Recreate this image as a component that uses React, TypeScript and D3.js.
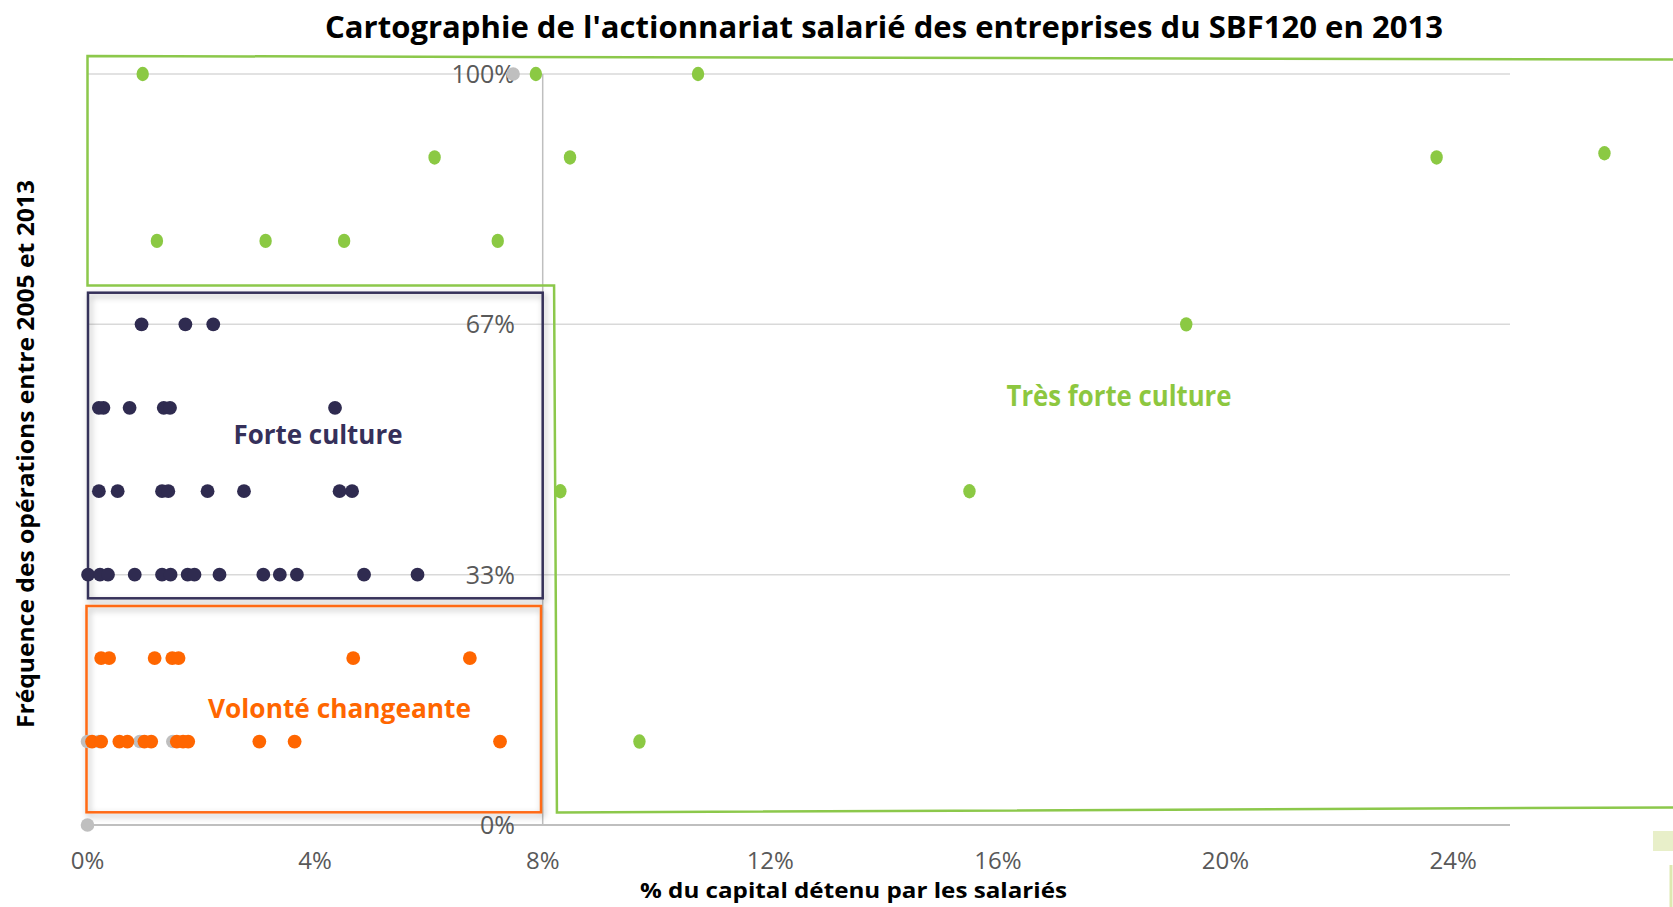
import React from "react";
import * as d3 from "d3";

// ---- data (frequency expressed as number of years with operations out of 9, 2005-2013) ----
const YEARS = 9;
const xTicks = [0, 4, 8, 12, 16, 20, 24];
const yTicks = [0, 1 / 3, 2 / 3, 1];

// Très forte culture (green)
const greenX = [0.97, 7.88, 10.73, 6.1, 8.48, 23.71, 26.66, 1.22, 3.13, 4.51, 7.21, 19.31, 8.31, 15.5, 9.7];
const greenN = [9, 9, 9, 8, 8, 8, 8.05, 7, 7, 7, 7, 6, 4, 4, 1];

// Forte culture (navy)
const navyRow6 = [0.95, 1.72, 2.21];
const navyRow5 = [0.2, 0.28, 0.74, 1.34, 1.45, 4.35];
const navyRow4 = [0.2, 0.53, 1.31, 1.42, 2.11, 2.75, 4.43, 4.65];
const navyRow3 = [0.01, 0.22, 0.36, 0.83, 1.31, 1.46, 1.76, 1.88, 2.32, 3.09, 3.38, 3.68, 4.86, 5.8];

// Volonté changeante (orange)
const orangeRow2 = [0.24, 0.38, 1.18, 1.49, 1.6, 4.67, 6.72];
const orangeRow1 = [0.08, 0.24, 0.56, 0.7, 1.0, 1.12, 1.57, 1.68, 1.77, 3.02, 3.64, 7.25];

// grey (unclassified) points
const greyX = [0, 0, 0.2, 0.92, 1.5, 7.48];
const greyN = [0, 1, 1, 1, 1, 9];

const W = 1673;
const H = 907;

export default function App() {
  const x = d3.scaleLinear().domain([0, 25]).range([87.5, 1510]);
  const y = d3.scaleLinear().domain([0, 1]).range([825, 74]);
  const fy = (n: number) => y(n / YEARS);

  const navy = [
    ...navyRow6.map((v) => [v, 6]),
    ...navyRow5.map((v) => [v, 5]),
    ...navyRow4.map((v) => [v, 4]),
    ...navyRow3.map((v) => [v, 3]),
  ];
  const orange = [...orangeRow2.map((v) => [v, 2]), ...orangeRow1.map((v) => [v, 1])];

  const greenLine = "#8CC84B";
  const greenDot = "#8BC943";
  const navyCol = "#2F2B50";
  const orangeCol = "#FF6600";
  const font = "'Open Sans', 'Noto Sans', sans-serif";

  // region shapes derived from the scales
  const greenShape = [
    [x(0), 56],
    [1690, 59.6],
    [1690, 807.3],
    [x(8.25), 812.5],
    [x(8.2), 285.5],
    [x(0), 285.5],
  ];

  return (
    <svg
      width={W}
      height={H}
      style={{ position: "absolute", left: 0, top: 0, background: "#fff" }}
    >
      <defs>
        <filter id="sh" x="-10%" y="-10%" width="120%" height="120%">
          <feDropShadow dx="2" dy="3" stdDeviation="3" floodColor="#000" floodOpacity="0.3" />
        </filter>
      </defs>

      {/* title */}
      <text
        x={884}
        y={38}
        textAnchor="middle"
        fontFamily={font}
        fontWeight="bold"
        fontSize={31}
        textLength={1118}
        lengthAdjust="spacingAndGlyphs"
        fill="#000"
      >
        Cartographie de l'actionnariat salarié des entreprises du SBF120 en 2013
      </text>

      {/* gridlines */}
      {yTicks
        .filter((t) => t > 0)
        .map((t, i) => (
          <line key={"g" + i} x1={x(0)} x2={x(25)} y1={y(t)} y2={y(t)} stroke="#D9D9D9" strokeWidth={1.5} />
        ))}
      {/* x axis */}
      <line x1={x(0)} x2={x(25)} y1={y(0)} y2={y(0)} stroke="#BFBFBF" strokeWidth={1.8} />
      {/* y axis, crossing at 8% */}
      <line x1={x(8)} x2={x(8)} y1={y(1)} y2={y(0)} stroke="#BFBFBF" strokeWidth={1.5} />

      {/* x tick labels */}
      {xTicks.map((t) => (
        <text
          key={"xt" + t}
          x={x(t)}
          y={869}
          textAnchor="middle"
          fontFamily={font}
          fontSize={24}
          fill="#595959"
        >
          {t + "%"}
        </text>
      ))}

      {/* region boxes */}
      <polygon
        points={greenShape.map((p) => p.join(",")).join(" ")}
        fill="none"
        stroke={greenLine}
        strokeWidth={2.5}
      />
      <rect
        x={88}
        y={292.7}
        width={x(8) - 88}
        height={598.3 - 292.7}
        fill="none"
        stroke="#36315A"
        strokeWidth={2.5}
        filter="url(#sh)"
      />
      <rect
        x={86.5}
        y={606}
        width={541 - 86.5}
        height={812.3 - 606}
        fill="none"
        stroke="#FF6A13"
        strokeWidth={2.5}
        filter="url(#sh)"
      />

      {/* y tick labels */}
      {yTicks.map((t, i) => (
        <text
          key={"yt" + i}
          x={515}
          y={y(t)}
          dy="0.36em"
          textAnchor="end"
          fontFamily={font}
          fontSize={25}
          fill="#595959"
        >
          {Math.round(t * 100) + "%"}
        </text>
      ))}

      {/* points */}
      {greyX.map((v, i) => (
        <circle key={"gr" + i} cx={x(v)} cy={fy(greyN[i])} r={6.8} fill="#BFBFBF" />
      ))}
      {navy.map(([v, n], i) => (
        <circle key={"n" + i} cx={x(v)} cy={fy(n)} r={6.9} fill={navyCol} />
      ))}
      {orange.map(([v, n], i) => (
        <circle key={"o" + i} cx={x(v)} cy={fy(n)} r={6.9} fill={orangeCol} />
      ))}
      {greenX.map((v, i) => (
        <ellipse key={"gn" + i} cx={x(v)} cy={fy(greenN[i])} rx={6.2} ry={7.2} fill={greenDot} />
      ))}

      {/* region labels */}
      <text
        x={1119}
        y={406}
        textAnchor="middle"
        fontFamily={font}
        fontWeight="bold"
        fontSize={28}
        textLength={225}
        lengthAdjust="spacingAndGlyphs"
        fill="#8DC73F"
      >
        Très forte culture
      </text>
      <text
        x={318}
        y={444}
        textAnchor="middle"
        fontFamily={font}
        fontWeight="bold"
        fontSize={27}
        textLength={169}
        lengthAdjust="spacingAndGlyphs"
        fill="#35305A"
      >
        Forte culture
      </text>
      <text
        x={339.5}
        y={718}
        textAnchor="middle"
        fontFamily={font}
        fontWeight="bold"
        fontSize={27}
        textLength={263}
        lengthAdjust="spacingAndGlyphs"
        fill="#FF6600"
      >
        Volonté changeante
      </text>

      {/* axis titles */}
      <text
        x={853.5}
        y={898}
        textAnchor="middle"
        fontFamily={font}
        fontWeight="bold"
        fontSize={22}
        textLength={427}
        lengthAdjust="spacingAndGlyphs"
        fill="#000"
      >
        % du capital détenu par les salariés
      </text>
      <text
        transform={`translate(33.5,454) rotate(-90)`}
        textAnchor="middle"
        fontFamily={font}
        fontWeight="bold"
        fontSize={23}
        textLength={548}
        lengthAdjust="spacingAndGlyphs"
        fill="#000"
      >
        Fréquence des opérations entre 2005 et 2013
      </text>

      {/* small slide artefacts bottom right */}
      <rect x={1653} y={831} width={20} height={20} fill="#E8EFC9" />
      <line x1={1671} x2={1671} y1={865} y2={907} stroke="#DDE8B0" strokeWidth={3} />
    </svg>
  );
}
